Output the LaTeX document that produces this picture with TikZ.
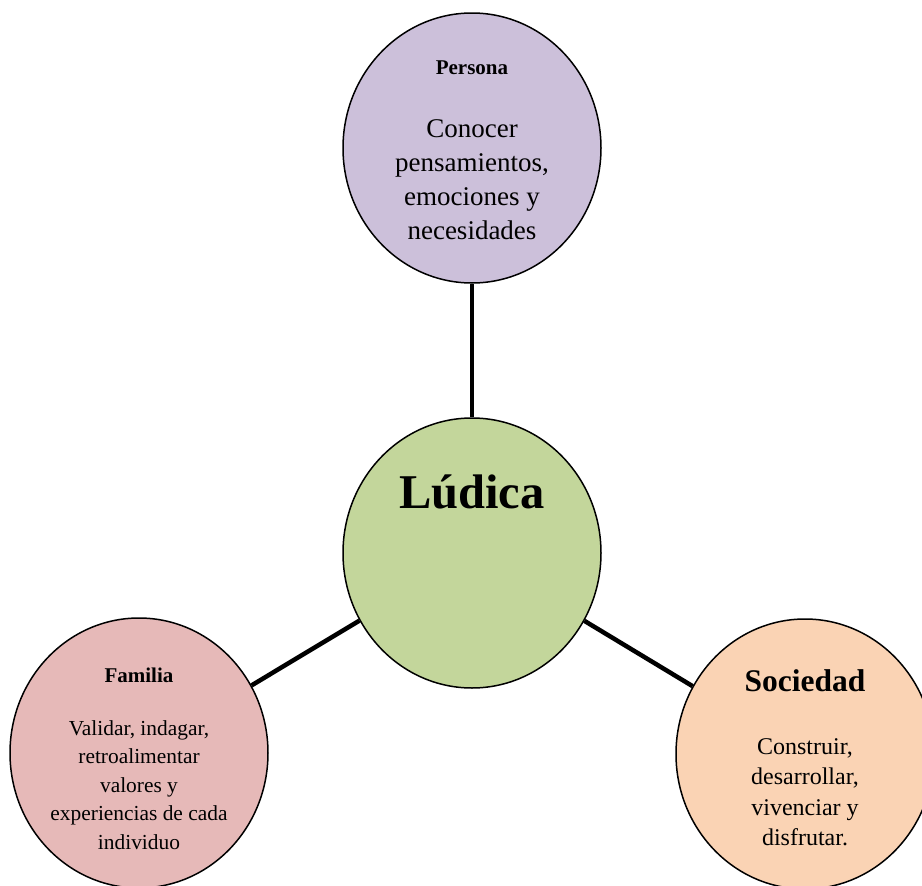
\documentclass[tikz,border=0pt]{standalone}
\usepackage{fontspec}
\setmainfont{Liberation Serif}
\usepackage{tikz}
\usepackage{xcolor}
\usetikzlibrary{shapes.geometric}
\definecolor{persona-fill}{HTML}{CCC0DA}
\definecolor{ludica-fill}{HTML}{C3D69B}
\definecolor{familia-fill}{HTML}{E6B9B8}
\definecolor{sociedad-fill}{HTML}{FAD3B4}
\tikzset{
    topic-circle/.style = {draw=black, line width=1.5pt, ellipse, minimum width=258pt, minimum height=270pt, inner sep=0pt},
    topic-title/.style = {font=\bfseries\fontsize{21}{25}\selectfont, inner sep=0pt},
    topic-text/.style = {align=center, inner sep=0pt},
    link-line/.style = {draw=black, line width=4.5pt},
}

\begin{document}
\begin{tikzpicture}[x=1pt, y=-1pt]
\useasboundingbox (0,0) rectangle (922,886);
\clip (0,0) rectangle (922,886);
% the four circles
\node [topic-circle, fill=persona-fill] (persona) at (472,148) {};
\node [topic-circle, fill=ludica-fill] (ludica) at (472,553) {};
\node [topic-circle, fill=familia-fill] (familia) at (139,753) {};
\node [topic-circle, fill=sociedad-fill] (sociedad) at (805,754) {};
% links to the centre
\draw [link-line] (persona) -- (ludica);
\draw [link-line] (ludica) -- (familia);
\draw [link-line] (ludica) -- (sociedad);
% texts
\node [topic-title] (persona-title) at (472,68) {Persona};
\node [topic-text, font=\fontsize{27}{34}\selectfont] (persona-text) at (472,180) {Conocer\\pensamientos,\\emociones y\\necesidades};
\node [topic-title, font=\bfseries\fontsize{48.5}{56}\selectfont] (ludica-title) at (472,492) {Lúdica};
\node [topic-title] (familia-title) at (139,675) {Familia};
\node [topic-text, font=\fontsize{21.4}{28.5}\selectfont] (familia-text) at (139,785) {Validar, indagar,\\retroalimentar\\valores y\\experiencias de cada\\individuo};
\node [topic-title, font=\bfseries\fontsize{31.5}{36}\selectfont] (sociedad-title) at (805,681) {Sociedad};
\node [topic-text, font=\fontsize{24}{30.5}\selectfont] (sociedad-text) at (805,792) {Construir,\\desarrollar,\\vivenciar y\\disfrutar.};
\end{tikzpicture}
\end{document}
